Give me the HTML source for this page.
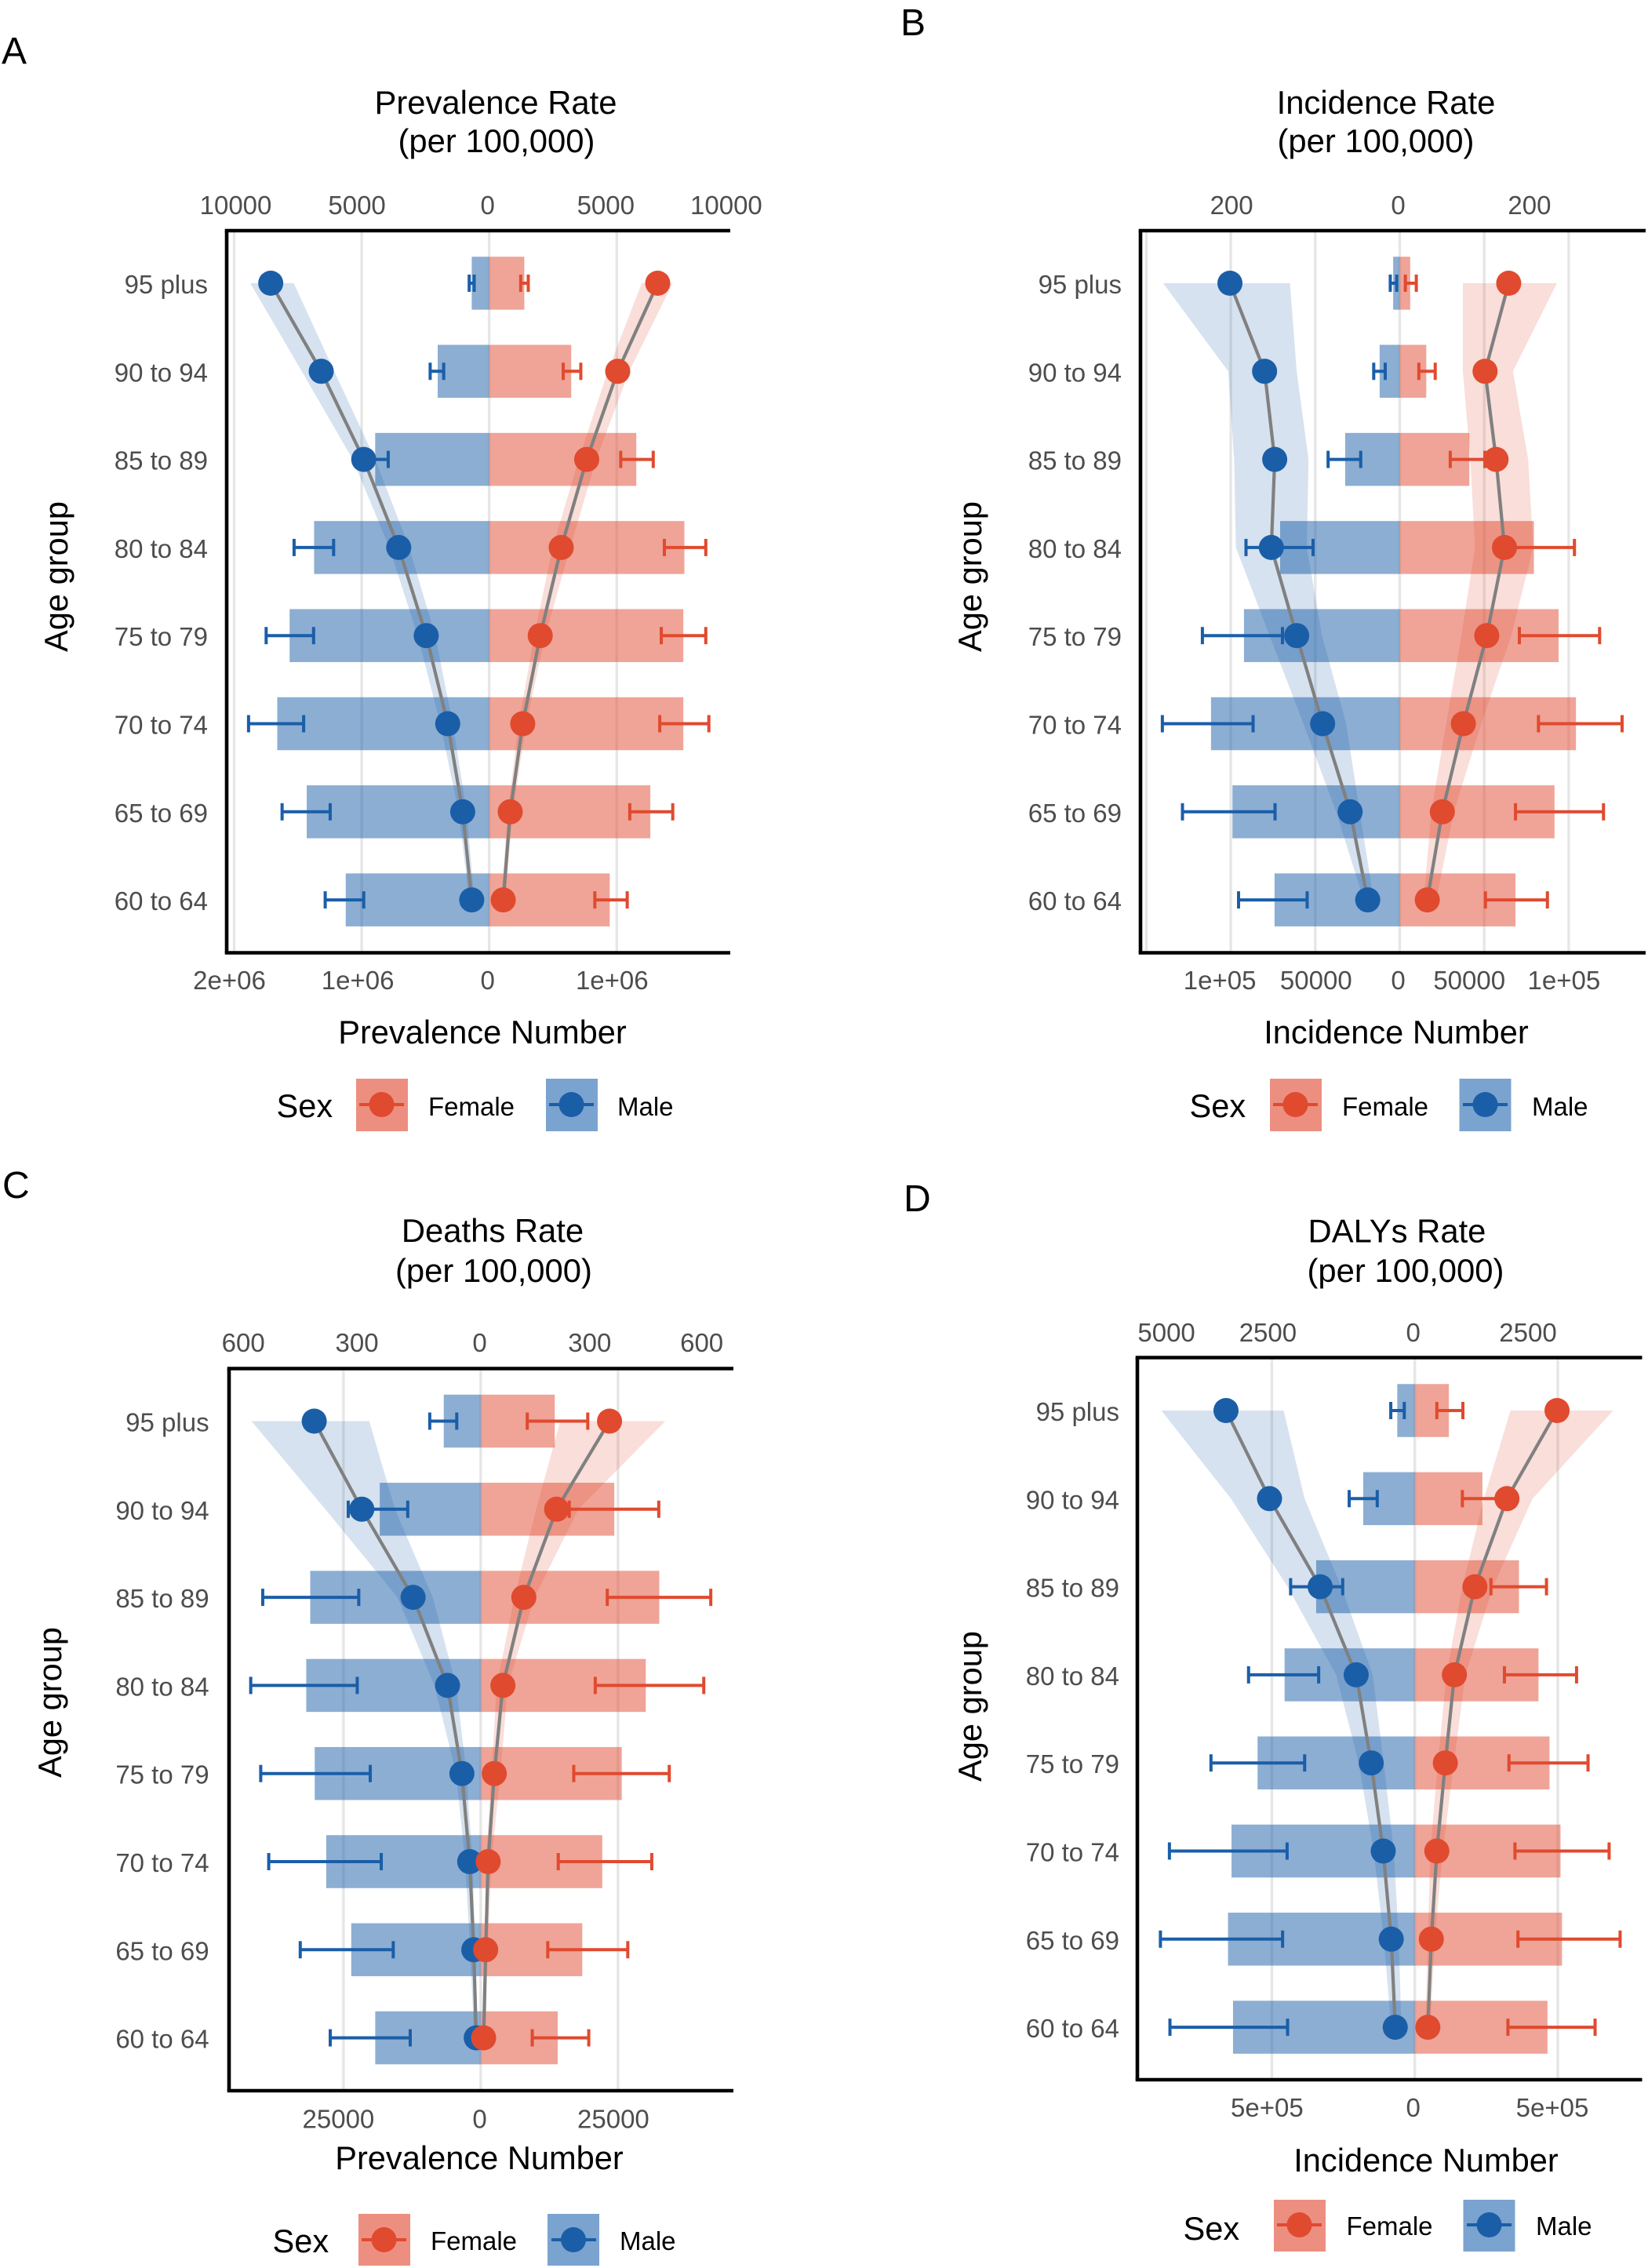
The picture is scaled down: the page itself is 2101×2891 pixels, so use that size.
<!DOCTYPE html>
<html lang="en">
<head>
<meta charset="utf-8">
<title>Age pyramids of prevalence, incidence, deaths and DALYs by sex</title>
<style>
html,body{margin:0;padding:0;background:#fff;}
svg{display:block;font-family:"Liberation Sans",Arial,sans-serif;}
.tag{font-size:48px;fill:#000;}
.ttl{font-size:41.8px;fill:#000;text-anchor:middle;}
.axt{font-size:41.6px;fill:#000;text-anchor:middle;}
.sex{font-size:41.6px;fill:#000;}
.leg{font-size:33px;fill:#000;}
.tick{font-size:33px;fill:#4d4d4d;text-anchor:middle;}
.row{font-size:33px;fill:#4d4d4d;text-anchor:end;}
</style>
</head>
<body>
<svg id="figure" xmlns="http://www.w3.org/2000/svg" width="2101" height="2891" viewBox="0 0 2101 2891">
<rect x="0" y="0" width="2101" height="2891" fill="#fff"/>

<text class="tag" x="2" y="81">A</text>
<text class="tag" x="1148" y="45">B</text>
<text class="tag" x="3" y="1527">C</text>
<text class="tag" x="1152" y="1544">D</text>

<text class="ttl" x="632" y="145">Prevalence Rate</text>
<text class="ttl" x="633" y="194">(per 100,000)</text>
<text class="ttl" x="1767" y="145">Incidence Rate</text>
<text class="ttl" x="1754" y="194">(per 100,000)</text>
<text class="ttl" x="628" y="1583">Deaths Rate</text>
<text class="ttl" x="629.5" y="1634">(per 100,000)</text>
<text class="ttl" x="1781" y="1583.5">DALYs Rate</text>
<text class="ttl" x="1792" y="1634">(per 100,000)</text>

<text class="axt" x="615" y="1330">Prevalence Number</text>
<text class="axt" x="1780" y="1330">Incidence Number</text>
<text class="axt" x="611" y="2765">Prevalence Number</text>
<text class="axt" x="1818" y="2768">Incidence Number</text>

<text class="axt" transform="translate(86 735) rotate(-90)">Age group</text>
<text class="axt" transform="translate(1251 735) rotate(-90)">Age group</text>
<text class="axt" transform="translate(78 2170) rotate(-90)">Age group</text>
<text class="axt" transform="translate(1251 2175) rotate(-90)">Age group</text>

<g id="charts"></g>

<!-- Legends -->
<g>
  <text class="sex" x="352.5" y="1424">Sex</text>
  <rect x="454" y="1375" width="66" height="67" fill="#ed8f80"/>
  <line x1="458" x2="515" y1="1408" y2="1408" stroke="#e04a2f" stroke-width="4"/>
  <circle cx="486.5" cy="1408" r="16" fill="#e04a2f"/>
  <text class="leg" x="546" y="1422">Female</text>
  <rect x="696" y="1375" width="66" height="67" fill="#7ba3cf"/>
  <line x1="700" x2="757" y1="1408" y2="1408" stroke="#1a5ea8" stroke-width="4"/>
  <circle cx="728.5" cy="1408" r="16" fill="#1a5ea8"/>
  <text class="leg" x="787" y="1422">Male</text>
</g>
<g>
  <text class="sex" x="1516.5" y="1424">Sex</text>
  <rect x="1619" y="1375" width="66" height="67" fill="#ed8f80"/>
  <line x1="1623" x2="1680" y1="1408" y2="1408" stroke="#e04a2f" stroke-width="4"/>
  <circle cx="1651.5" cy="1408" r="16" fill="#e04a2f"/>
  <text class="leg" x="1711" y="1422">Female</text>
  <rect x="1860.5" y="1375" width="66" height="67" fill="#7ba3cf"/>
  <line x1="1865" x2="1922" y1="1408" y2="1408" stroke="#1a5ea8" stroke-width="4"/>
  <circle cx="1893.5" cy="1408" r="16" fill="#1a5ea8"/>
  <text class="leg" x="1953" y="1422">Male</text>
</g>
<g>
  <text class="sex" x="347.5" y="2871">Sex</text>
  <rect x="457" y="2822" width="66" height="66" fill="#ed8f80"/>
  <line x1="461" x2="518" y1="2855" y2="2855" stroke="#e04a2f" stroke-width="4"/>
  <circle cx="489.5" cy="2855" r="16" fill="#e04a2f"/>
  <text class="leg" x="549" y="2868">Female</text>
  <rect x="698" y="2822" width="66" height="66" fill="#7ba3cf"/>
  <line x1="703" x2="760" y1="2855" y2="2855" stroke="#1a5ea8" stroke-width="4"/>
  <circle cx="731" cy="2855" r="16" fill="#1a5ea8"/>
  <text class="leg" x="790" y="2868">Male</text>
</g>
<g>
  <text class="sex" x="1508.5" y="2855">Sex</text>
  <rect x="1624" y="2804" width="66" height="66" fill="#ed8f80"/>
  <line x1="1628" x2="1685" y1="2836" y2="2836" stroke="#e04a2f" stroke-width="4"/>
  <circle cx="1656.5" cy="2836" r="16" fill="#e04a2f"/>
  <text class="leg" x="1716.5" y="2849">Female</text>
  <rect x="1865.5" y="2804" width="66" height="66" fill="#7ba3cf"/>
  <line x1="1870" x2="1927" y1="2836" y2="2836" stroke="#1a5ea8" stroke-width="4"/>
  <circle cx="1898.5" cy="2836" r="16" fill="#1a5ea8"/>
  <text class="leg" x="1958" y="2849">Male</text>
</g>
</svg>

<script>
// ----- Shared categories -----
const ageGroups = ["95 plus","90 to 94","85 to 89","80 to 84","75 to 79","70 to 74","65 to 69","60 to 64"];

// ----- Panel A: prevalence -----
const aMaleNumber = [137000,404000,894000,1373000,1565000,1662000,1431000,1125000];
const aFemaleNumber = [275000,643000,1153000,1530000,1522000,1522000,1263000,945000];
const aMaleErrOuter = [157000,463000,961000,1530000,1749000,1887000,1624000,1286000];
const aMaleErrInner = [118000,357000,792000,1220000,1377000,1455000,1247000,984000];
const aFemaleErrInner = [247000,580000,1031000,1373000,1349000,1337000,1102000,828000];
const aFemaleErrOuter = [306000,718000,1286000,1698000,1698000,1722000,1439000,1082000];
const aMaleRate = [8565,6586,4920,3548,2470,1627,1039,686];
const aFemaleRate = [6605,5037,3822,2822,1999,1313,823,549];
const aMaleRateUpper = [9369,7350,5351,3920,2803,1921,1196,784];
const aMaleRateLower = [7664,6076,4469,3136,2117,1431,882,588];
const aFemaleRateUpper = [7193,5488,4194,3175,2195,1450,921,627];
const aFemaleRateLower = [5978,4645,3508,2489,1764,1156,725,470];
const aRateTicks = [-10000,-5000,0,5000,10000];
const aRateTickLabels = ["10000","5000","0","5000","10000"];
const aNumberTicks = [-2000000,-1000000,0,1000000];
const aNumberTickLabels = ["2e+06","1e+06","0","1e+06"];

// ----- Panel B: incidence -----
const bMaleNumber = [3900,11900,32300,70800,92200,111700,99000,74100];
const bFemaleNumber = [6200,15700,41200,79400,94000,104300,91600,68500];
const bMaleErrOuter = [5600,15400,42400,91000,116800,140500,128600,95400];
const bMaleErrInner = [1800,8600,23100,51300,69400,86800,73800,54800];
const bFemaleErrInner = [3300,11300,29900,61700,70800,82100,68500,50700];
const bFemaleErrOuter = [9800,21000,50400,103400,118300,131600,120600,87400];
const bMaleRate = [201,160,148,152,122,91.3,58.7,37.9];
const bFemaleRate = [129,101,114,124,103,75.3,50.4,32.6];
const bMaleRateUpper = [280,203,196,194,154,114,75.3,42.7];
const bMaleRateLower = [130,122,108,110,92,63.4,47.4,30.8];
const bFemaleRateUpper = [186,134,152,158,132,96.6,64,43.3];
const bFemaleRateLower = [74.7,74.7,83.6,89,73,55,37.3,28.5];
const bRateTicks = [-200,0,200];
const bRateTickLabels = ["200","0","200"];
const bNumberTicks = [-100000,-50000,0,50000,100000];
const bNumberTickLabels = ["1e+05","50000","0","50000","1e+05"];

// ----- Panel C: deaths -----
const cMaleNumber = [6739,18396,31055,31783,30235,28141,23587,19216];
const cFemaleNumber = [13478,24316,32512,30053,25682,22130,18487,14025];
const cMaleErrOuter = [9289,24134,39707,41892,40071,38614,32876,27412];
const cMaleErrInner = [4371,13296,22221,22494,20126,18123,15937,12841];
const cFemaleErrInner = [8470,16119,23041,20855,16939,14116,12203,9380];
const cFemaleErrOuter = [19489,32421,41892,40617,34333,31146,26775,19671];
const cMaleRate = [406,290,165,81,46,27,17,11];
const cFemaleRate = [314,185,105,54,33,18,12,7];
const cMaleRateUpper = [559,379,203,113,60,38,26,16];
const cMaleRateLower = [272,209,117,60,35,20,13,7];
const cFemaleRateUpper = [450,238,131,66,48,26,17,11];
const cFemaleRateLower = [194,135,82,39,26,13,9,4];
const cRateTicks = [-600,-300,0,300,600];
const cRateTickLabels = ["600","300","0","300","600"];
const cNumberTicks = [-25000,0,25000];
const cNumberTickLabels = ["25000","0","25000"];

// ----- Panel D: DALYs -----
const dMaleNumber = [61300,180400,345000,455300,549800,640900,653100,635600];
const dFemaleNumber = [119100,236400,364200,432500,471000,509500,514800,464000];
const dMaleErrOuter = [84000,229400,434200,581300,712700,858000,889500,856200];
const dMaleErrInner = [36800,131300,252100,336200,385200,446500,462300,444800];
const dFemaleErrInner = [77000,166300,266200,313400,329200,350200,360700,325700];
const dFemaleErrOuter = [168100,302900,460500,565600,605800,679400,717900,630400];
const dMaleRate = [3301,2540,1655,1025,762,552,412,342];
const dFemaleRate = [2487,1611,1051,692,534,385,289,228];
const dMaleRateUpper = [4431,3214,2224,1375,981,718,543,412];
const dMaleRateLower = [2294,1927,1287,736,543,368,280,236];
const dFemaleRateUpper = [3468,2058,1366,884,683,490,350,271];
const dFemaleRateLower = [1673,1208,832,552,403,271,228,184];
const dRateTicks = [-5000,-2500,0,2500];
const dRateTickLabels = ["5000","2500","0","2500"];
const dNumberTicks = [-500000,0,500000];
const dNumberTickLabels = ["5e+05","0","5e+05"];

// ----- Colours -----
const MALE = "#1a5ea8";
const FEMALE = "#e04a2f";
const SVGNS = "http://www.w3.org/2000/svg";
const root = document.getElementById("charts");

function mk(parent, tag, attrs, text) {
  const el = document.createElementNS(SVGNS, tag);
  for (const k in attrs) el.setAttribute(k, attrs[k]);
  if (text !== undefined) el.textContent = text;
  parent.appendChild(el);
  return el;
}

function drawSide(g, p, sexName, color, sign, number, errInner, errOuter, rate, rateUpper, rateLower) {
  const numX = v => p.x0 + sign * v * p.numberScale;
  const rateX = v => p.x0 + sign * v * p.rateScale;
  const rowY = i => p.rowTop + i * p.rowStep;
  const n = ageGroups.length;

  // bars
  for (let i = 0; i < n; i++) {
    const xa = numX(number[i]);
    const bar = mk(g, "rect", {
      x: Math.min(xa, p.x0), y: rowY(i) - p.barH / 2,
      width: Math.abs(xa - p.x0), height: p.barH, fill: color, "fill-opacity": 0.5
    });
    
    
  }

  // ribbon
  let rib = "";
  for (let i = 0; i < n; i++) rib += (i ? "L" : "M") + rateX(rateUpper[i]).toFixed(1) + " " + rowY(i).toFixed(1);
  for (let i = n - 1; i >= 0; i--) rib += "L" + rateX(rateLower[i]).toFixed(1) + " " + rowY(i).toFixed(1);
  const ribbon = mk(g, "path", { d: rib + "Z", fill: color, "fill-opacity": 0.18 });
  
  

  // error bars
  for (let i = 0; i < n; i++) {
    const a = numX(errInner[i]), b = numX(errOuter[i]), y = rowY(i);
    const eg = mk(g, "g", { stroke: color, "stroke-width": 4, fill: "none" });
    
    
    mk(eg, "line", { x1: a, x2: b, y1: y, y2: y });
    mk(eg, "line", { x1: a, x2: a, y1: y - 11, y2: y + 11 });
    mk(eg, "line", { x1: b, x2: b, y1: y - 11, y2: y + 11 });
  }

  // connecting line
  const pts = rate.map((v, i) => rateX(v).toFixed(1) + "," + rowY(i).toFixed(1)).join(" ");
  const line = mk(g, "polyline", { points: pts, fill: "none", stroke: "#808080", "stroke-width": 4.2 });
  
  
}

function drawPoints(g, p, sexName, color, sign, rate) {
  rate.forEach((v, i) => {
    const c = mk(g, "circle", { cx: p.x0 + sign * v * p.rateScale, cy: p.rowTop + i * p.rowStep, r: 16, fill: color });
    
    
  });
}

function drawPanel(p) {
  const g = mk(root, "g", {});
  
  

  // gridlines
  p.gridValues.forEach(v => {
    const x = p.x0 + v * p.numberScale;
    const gl = mk(g, "line", { x1: x, x2: x, y1: p.top, y2: p.bottom, stroke: "#e6e6e6", "stroke-width": 3.4 });
    
    
  });

  drawSide(g, p, "male", MALE, -1, p.m.number, p.m.errInner, p.m.errOuter, p.m.rate, p.m.upper, p.m.lower);
  drawSide(g, p, "female", FEMALE, 1, p.f.number, p.f.errInner, p.f.errOuter, p.f.rate, p.f.upper, p.f.lower);
  drawPoints(g, p, "male", MALE, -1, p.m.rate);
  drawPoints(g, p, "female", FEMALE, 1, p.f.rate);

  // axis lines
  const lw = 4.6;
  const axisTop = mk(g, "line", { x1: p.left - lw / 2, x2: p.right, y1: p.top, y2: p.top, stroke: "#000", "stroke-width": lw });
  
  
  const axisBottom = mk(g, "line", { x1: p.left - lw / 2, x2: p.right, y1: p.bottom, y2: p.bottom, stroke: "#000", "stroke-width": lw });
  
  
  const axisLeft = mk(g, "line", { x1: p.left, x2: p.left, y1: p.top, y2: p.bottom, stroke: "#000", "stroke-width": lw });
  
  

  // tick labels
  p.rateTicks.forEach((v, i) => {
    const t = mk(g, "text", { class: "tick", x: p.x0 + v * p.rateScale + p.rateNudge[i], y: p.topTickY }, p.rateLabels[i]);
    
    
  });
  p.numberTicks.forEach((v, i) => {
    const t = mk(g, "text", { class: "tick", x: p.x0 + v * p.numberScale + p.numberNudge[i], y: p.bottomTickY }, p.numberLabels[i]);
    
    
  });
  ageGroups.forEach((a, i) => {
    const t = mk(g, "text", { class: "row", x: p.rowLabelX, y: p.rowTop + i * p.rowStep + 13 }, a);
    
    
  });
}

drawPanel({
  id: "a", x0: 623.7, numberScale: 162.6 / 1000000, rateScale: 162.6 / 5000,
  left: 289, right: 931, top: 294, bottom: 1214.5, rowTop: 361, rowStep: 112.3, barH: 67.5,
  topTickY: 273, bottomTickY: 1261, rowLabelX: 265,
  gridValues: [-2000000, -1000000, 0, 1000000],
  rateTicks: aRateTicks, rateLabels: aRateTickLabels, rateNudge: [2, -6, -2, -14, -23],
  numberTicks: aNumberTicks, numberLabels: aNumberTickLabels, numberNudge: [-6, -5, -2, -6],
  m: { number: aMaleNumber, errInner: aMaleErrInner, errOuter: aMaleErrOuter, rate: aMaleRate, upper: aMaleRateUpper, lower: aMaleRateLower },
  f: { number: aFemaleNumber, errInner: aFemaleErrInner, errOuter: aFemaleErrOuter, rate: aFemaleRate, upper: aFemaleRateUpper, lower: aFemaleRateLower }
});

drawPanel({
  id: "b", x0: 1784.5, numberScale: 107.7 / 50000, rateScale: 107.7 / 100,
  left: 1454, right: 2098, top: 294, bottom: 1214.5, rowTop: 361, rowStep: 112.3, barH: 67.5,
  topTickY: 273, bottomTickY: 1261, rowLabelX: 1430,
  gridValues: [-150000, -100000, -50000, 0, 50000, 100000],
  rateTicks: bRateTicks, rateLabels: bRateTickLabels, rateNudge: [1, -2, -50],
  numberTicks: bNumberTicks, numberLabels: bNumberTickLabels, numberNudge: [-14, 1, -2, -19, -6],
  m: { number: bMaleNumber, errInner: bMaleErrInner, errOuter: bMaleErrOuter, rate: bMaleRate, upper: bMaleRateUpper, lower: bMaleRateLower },
  f: { number: bFemaleNumber, errInner: bFemaleErrInner, errOuter: bFemaleErrOuter, rate: bFemaleRate, upper: bFemaleRateUpper, lower: bFemaleRateLower }
});

drawPanel({
  id: "c", x0: 612.9, numberScale: 175 / 25000, rateScale: 0.5229,
  left: 292, right: 935, top: 1744.5, bottom: 2665, rowTop: 1811.5, rowStep: 112.3, barH: 67.5,
  topTickY: 1723, bottomTickY: 2712.5, rowLabelX: 266.6,
  gridValues: [-25000, 0, 25000],
  rateTicks: cRateTicks, rateLabels: cRateTickLabels, rateNudge: [11, -1, -1.3, -18, -32],
  numberTicks: cNumberTicks, numberLabels: cNumberTickLabels, numberNudge: [-6.5, -1.3, -6],
  m: { number: cMaleNumber, errInner: cMaleErrInner, errOuter: cMaleErrOuter, rate: cMaleRate, upper: cMaleRateUpper, lower: cMaleRateLower },
  f: { number: cFemaleNumber, errInner: cFemaleErrInner, errOuter: cFemaleErrOuter, rate: cFemaleRate, upper: cFemaleRateUpper, lower: cFemaleRateLower }
});

drawPanel({
  id: "d", x0: 1803.7, numberScale: 182.3 / 500000, rateScale: 182.3 / 2500,
  left: 1450, right: 2093.5, top: 1730.5, bottom: 2651, rowTop: 1798, rowStep: 112.3, barH: 67.5,
  topTickY: 1710, bottomTickY: 2698, rowLabelX: 1427,
  gridValues: [-500000, 0, 500000],
  rateTicks: dRateTicks, rateLabels: dRateTickLabels, rateNudge: [48, -5, -2, -38],
  numberTicks: dNumberTicks, numberLabels: dNumberTickLabels, numberNudge: [-6, -2, -7],
  m: { number: dMaleNumber, errInner: dMaleErrInner, errOuter: dMaleErrOuter, rate: dMaleRate, upper: dMaleRateUpper, lower: dMaleRateLower },
  f: { number: dFemaleNumber, errInner: dFemaleErrInner, errOuter: dFemaleErrOuter, rate: dFemaleRate, upper: dFemaleRateUpper, lower: dFemaleRateLower }
});
</script>
</body>
</html>
